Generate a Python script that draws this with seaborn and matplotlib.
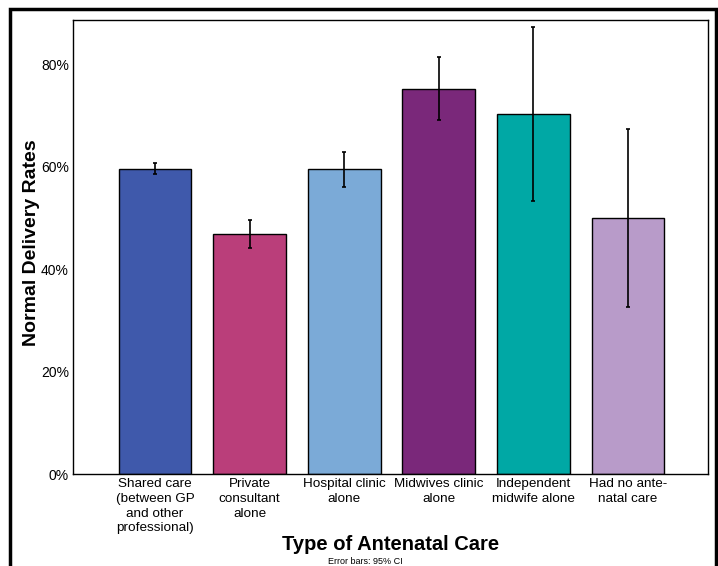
import seaborn as sns
import matplotlib.pyplot as plt
import matplotlib.patches as mpatches
import numpy as np
import pandas as pd
from matplotlib.ticker import PercentFormatter

care_types = [
    "Shared care\n(between GP\nand other\nprofessional)",
    "Private\nconsultant\nalone",
    "Hospital clinic\nalone",
    "Midwives clinic\nalone",
    "Independent\nmidwife alone",
    "Had no ante-\nnatal care",
]
rates = [59.5, 46.8, 59.5, 75.2, 70.2, 50.0]
ci_low = [58.5, 44.1, 56.0, 69.1, 53.3, 32.6]
ci_high = [60.6, 49.5, 62.8, 81.3, 87.3, 67.4]
bar_colors = ["#3F59AB", "#BA3E7A", "#7BAAD7", "#7A287A", "#00A8A5", "#B89BC9"]


def main():
    sns.set_theme(style="white")
    plt.rcParams["font.family"] = ["Liberation Sans", "DejaVu Sans"]
    plt.rcParams["text.color"] = "black"
    plt.rcParams["axes.labelcolor"] = "black"

    df = pd.DataFrame({"care": care_types, "rate": rates})

    fig = plt.figure(figsize=(7.18, 5.66), dpi=100)
    ax = fig.add_axes([0.1017, 0.1625, 0.8843, 0.8022])

    sns.barplot(ax=ax, data=df, x="care", y="rate", hue="care", palette=bar_colors,
                legend=False, errorbar=None, width=0.77, edgecolor="black", linewidth=1.0,
                saturation=1)

    # 95% CI whiskers
    x = np.arange(len(rates))
    yerr = [np.array(rates) - np.array(ci_low), np.array(ci_high) - np.array(rates)]
    ax.errorbar(x, rates, yerr=yerr, fmt="none", ecolor="black", elinewidth=1.2,
                capsize=1.5, capthick=1.2)

    ax.set_xlim(-0.867, 5.846)
    ax.set_ylim(0, 88.6)
    ax.set_yticks([0, 20, 40, 60, 80])
    ax.yaxis.set_major_formatter(PercentFormatter(decimals=0))
    ax.tick_params(axis="y", labelsize=10, colors="black", length=2, width=0.8,
                   direction="out", pad=1)
    ax.tick_params(axis="x", labelsize=9.7, colors="black", length=0, pad=3)
    for lbl in ax.get_xticklabels():
        lbl.set_linespacing(1.3)
    for s in ax.spines.values():
        s.set_color("black")
        s.set_linewidth(1.0)

    ax.set_ylabel("")
    ax.set_xlabel("")
    fig.text(32 / 718, 1 - 243 / 566, "Normal Delivery Rates", fontsize=14,
             fontweight="bold", rotation=90, ha="center", va="center")
    fig.text(391 / 718, 1 - 545 / 566, "Type of Antenatal Care", fontsize=14.5,
             fontweight="bold", ha="center", va="center")

    fig.text(365 / 718, 0.0, "Error bars: 95% CI", fontsize=6.5, ha="center", va="bottom")

    # outer frame
    frame = mpatches.Rectangle((9.5 / 718, -0.05), 706 / 718, 1.05 - 9.5 / 566,
                               transform=fig.transFigure, fill=False,
                               edgecolor="black", linewidth=2.5, clip_on=False)
    fig.patches.append(frame)

    fig.savefig("out.png", dpi=100)


if __name__ == '__main__':
    main()
